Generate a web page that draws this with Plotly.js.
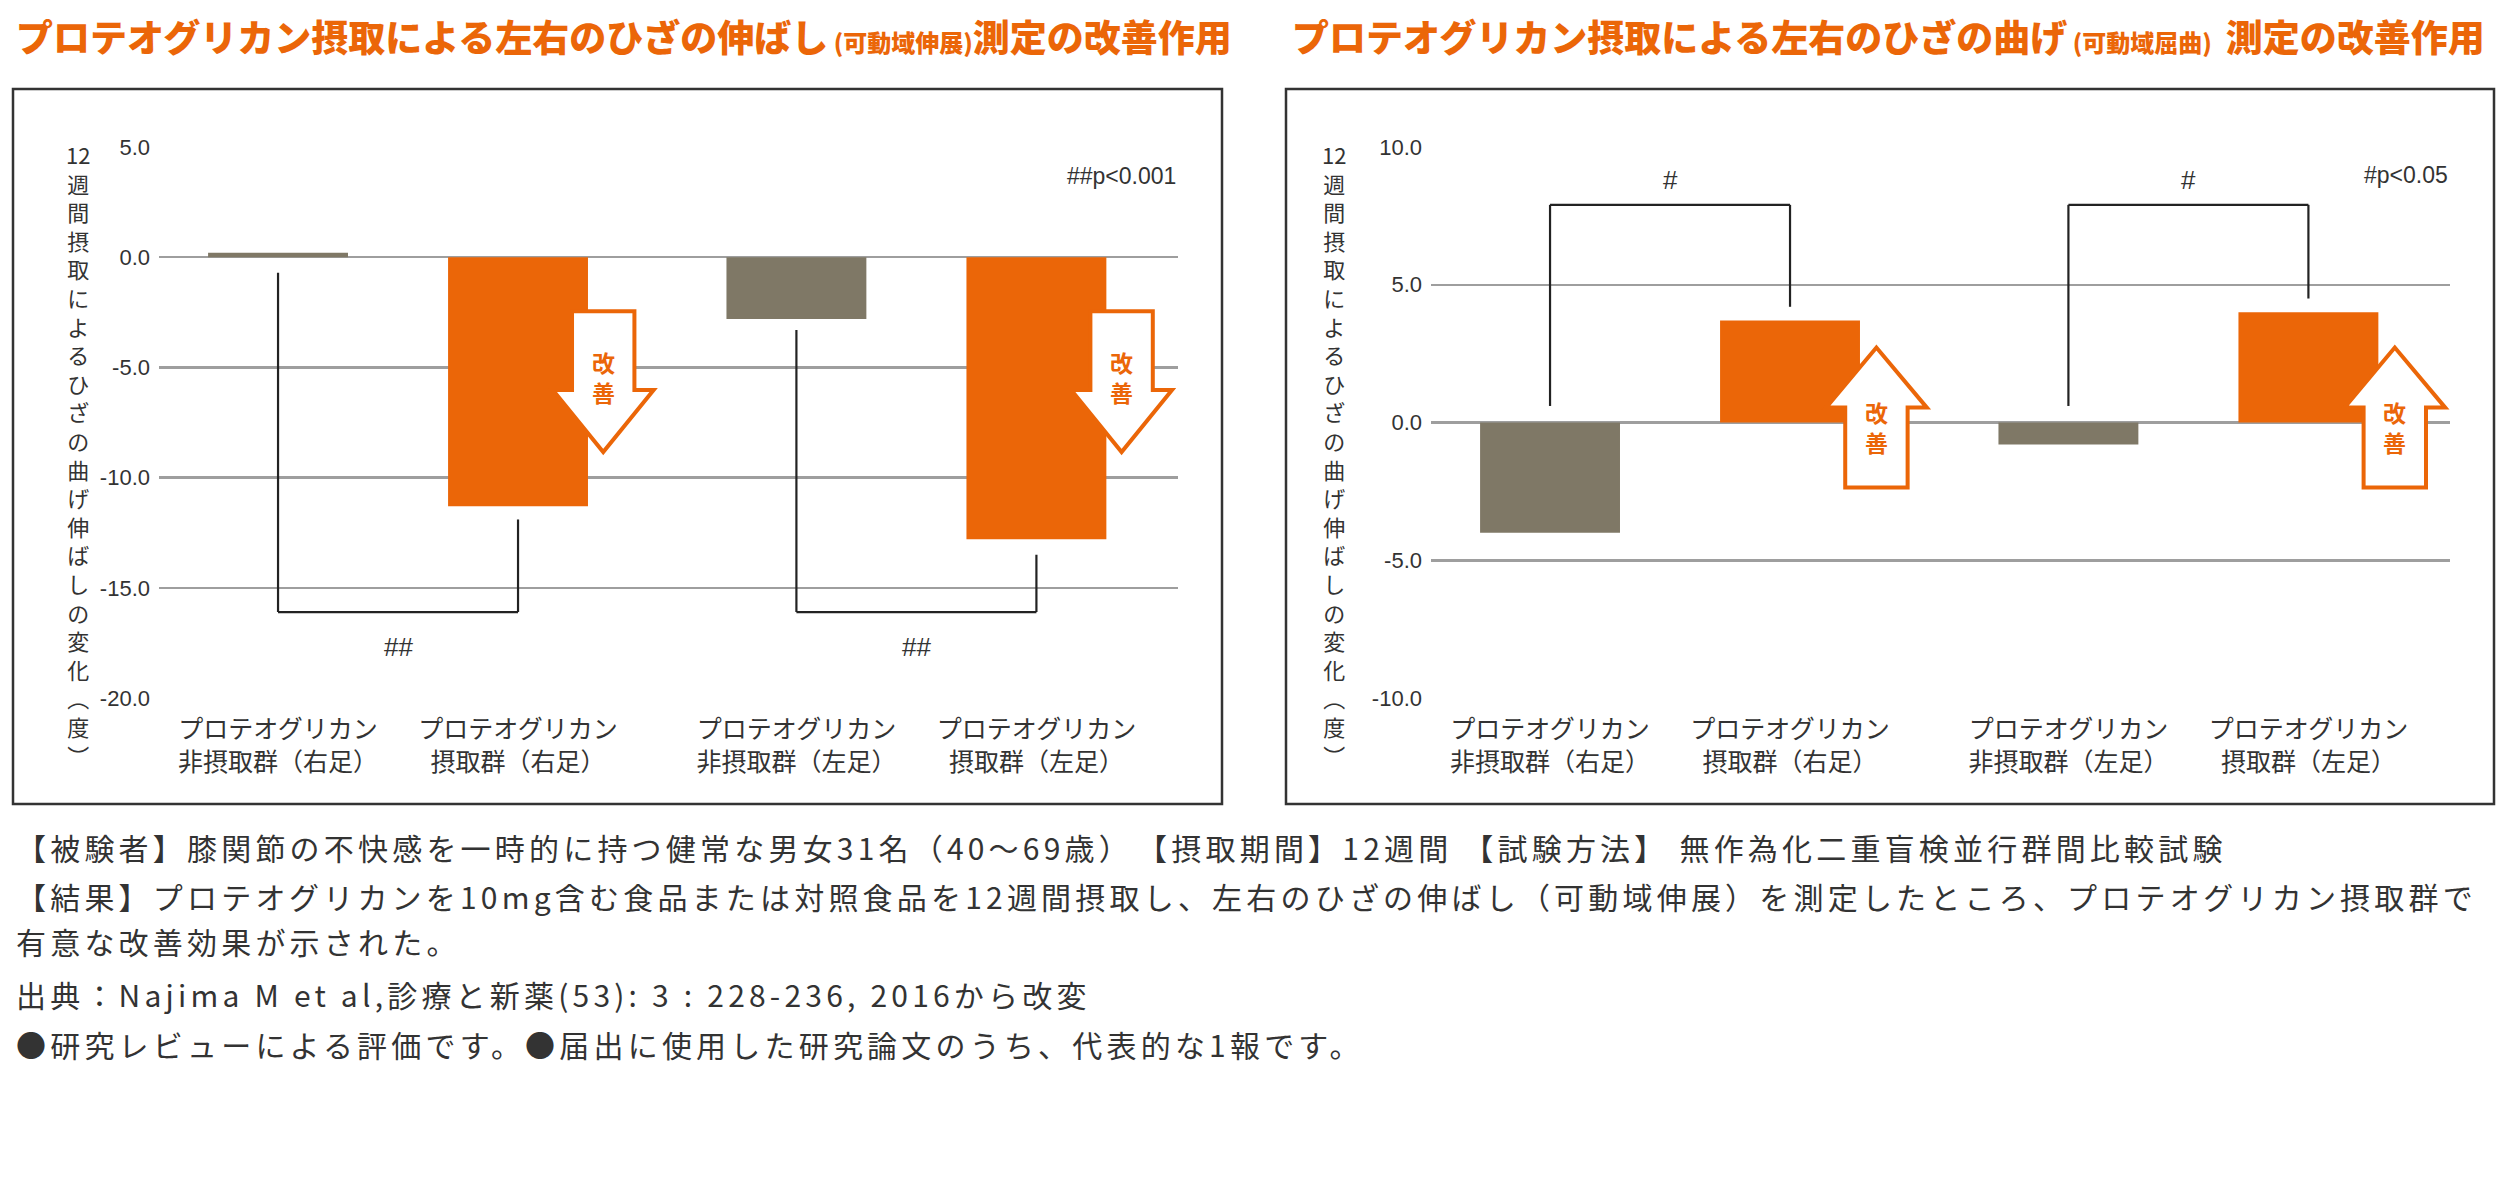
<!DOCTYPE html>
<html lang="ja">
<head>
<meta charset="utf-8">
<script src="https://cdn.plot.ly/plotly-3.0.1.min.js"></script>
<style>
  body { margin: 0; background: #fff; }
  #wrap { position: relative; width: 2500px; height: 1180px; }
  #chart { position: absolute; left: 0; top: 0; width: 2500px; height: 1180px; }
  .note {
    position: absolute; left: 16px;
    font-family: 'Noto Sans CJK JP', sans-serif;
    font-size: 30px; line-height: 30px; letter-spacing: 4.2px;
    color: #333; white-space: nowrap;
  }
</style>
</head>
<body>
<div id="wrap">
  <div id="chart"></div>
  <div class="note" style="top:832px">【被験者】膝関節の不快感を一時的に持つ健常な男女31名（40〜69歳）　【摂取期間】12週間 【試験方法】 無作為化二重盲検並行群間比較試験</div>
  <div class="note" style="top:881px">【結果】プロテオグリカンを10mg含む食品または対照食品を12週間摂取し、左右のひざの伸ばし（可動域伸展）を測定したところ、プロテオグリカン摂取群で</div>
  <div class="note" style="top:926px">有意な改善効果が示された。</div>
  <div class="note" style="top:979px">出典：Najima M et al,診療と新薬(53): 3 : 228-236, 2016から改変</div>
  <div class="note" style="top:1029px">●研究レビューによる評価です。●届出に使用した研究論文のうち、代表的な1報です。</div>
</div>
<script>
// ---- data ----
const categories = [
  'プロテオグリカン<br>非摂取群（右足）',
  'プロテオグリカン<br>摂取群（右足）',
  'プロテオグリカン<br>非摂取群（左足）',
  'プロテオグリカン<br>摂取群（左足）'
];
const treated = [false, true, false, true];

// knee extension (可動域伸展), degrees
const extensionValues = [0.2, -11.3, -2.8, -12.8];
const extensionBracketEnds = [-0.7, -11.9, -3.3, -13.5];
const extensionBracketLevel = -16.1;
const extensionSig = '##';
const extensionNote = '##p<0.001';
const extensionTicks = [5, 0, -5, -10, -15, -20];

// knee flexion (可動域屈曲), degrees
const flexionValues = [-4.0, 3.7, -0.8, 4.0];
const flexionBracketEnds = [0.6, 4.2, 0.6, 4.5];
const flexionBracketLevel = 7.9;
const flexionSig = '#';
const flexionNote = '#p<0.05';
const flexionTicks = [10, 5, 0, -5, -10];

const axisTitle = '12週間摂取によるひざの曲げ伸ばしの変化（度）';

// ---- styling ----
const ORANGE = '#eb6608';
const GRAY = '#7f7866';
const INK = '#333333';
const JP = "'Noto Sans CJK JP', sans-serif";
const NUM = "'Liberation Sans', Arial, sans-serif";
const GROUP_GAP = 0.16;
const px = v => v / 2500;
const py = v => 1 - v / 1180;

const xPos = categories.map((c, i) => i + (i >= 2 ? GROUP_GAP : 0));

function arrowPath(xc, yBase, yHead, yTip, hs, hh) {
  return `M ${xc - hs},${yBase} L ${xc + hs},${yBase} L ${xc + hs},${yHead} ` +
         `L ${xc + hh},${yHead} L ${xc},${yTip} L ${xc - hh},${yHead} L ${xc - hs},${yHead} Z`;
}

function buildPanel(p) {
  const traces = [{
    type: 'bar',
    x: xPos,
    y: p.values,
    width: 0.583,
    marker: { color: treated.map(t => t ? ORANGE : GRAY), line: { width: 0 } },
    xaxis: p.xa, yaxis: p.ya,
    hoverinfo: 'skip', showlegend: false
  }];

  const shapes = [];
  const annotations = [];
  const bracket = { type: 'line', xref: p.xa, yref: p.ya, line: { color: '#222', width: 2.2 }, layer: 'above' };

  // brackets between 非摂取群 / 摂取群 of each leg
  [[0, 1], [2, 3]].forEach(([a, b]) => {
    shapes.push(Object.assign({}, bracket, { x0: xPos[a], x1: xPos[a], y0: p.ends[a], y1: p.level }));
    shapes.push(Object.assign({}, bracket, { x0: xPos[b], x1: xPos[b], y0: p.ends[b], y1: p.level }));
    shapes.push(Object.assign({}, bracket, { x0: xPos[a], x1: xPos[b], y0: p.level, y1: p.level }));
    annotations.push({
      xref: p.xa, yref: p.ya, x: (xPos[a] + xPos[b]) / 2, y: p.level + p.sigOffset,
      text: p.sig, showarrow: false, font: { family: NUM, size: 26, color: INK }
    });
  });

  // 改善 arrows next to the treated bars
  xPos.forEach((x, i) => {
    if (!treated[i]) return;
    const xc = x + p.arrow.dx;
    shapes.push({
      type: 'path', xref: p.xa, yref: p.ya, layer: 'above',
      path: arrowPath(xc, p.arrow.base, p.arrow.head, p.arrow.tip, 0.13, 0.21),
      fillcolor: '#ffffff', line: { color: ORANGE, width: 4 }
    });
    annotations.push({
      xref: p.xa, yref: p.ya, x: xc, y: p.arrow.label,
      text: '改<br>善', showarrow: false,
      font: { family: JP, size: 23, color: ORANGE, weight: 700 }
    });
  });

  // p-value note, top right of the plot
  annotations.push({
    xref: p.xa + ' domain', yref: p.ya, x: 1, y: p.noteY, xanchor: 'right',
    text: p.note, showarrow: false, font: { family: NUM, size: 23, color: INK }
  });

  // vertical axis title, one glyph per line
  const units = ['12'].concat(Array.from(axisTitle.slice(2)))
    .map(c => c === '（' ? '︵' : c === '）' ? '︶' : c);
  annotations.push({
    xref: 'paper', yref: 'paper', x: px(p.titleX), y: py(136), yanchor: 'top',
    text: units.join('<br>'), showarrow: false, align: 'center',
    font: { family: JP, size: 22, color: INK }
  });

  // panel title
  annotations.push({
    xref: 'paper', yref: 'paper', x: px(p.headX), y: py(36), xanchor: 'left', yanchor: 'middle',
    text: p.head, showarrow: false,
    font: { family: JP, size: 37, color: ORANGE, weight: 900 }
  });

  // panel frame
  shapes.push({
    type: 'rect', xref: 'paper', yref: 'paper', layer: 'below',
    x0: px(p.box[0]), x1: px(p.box[1]), y0: py(804), y1: py(89),
    line: { color: INK, width: 2.5 }
  });

  return { traces, shapes, annotations };
}

const left = buildPanel({
  xa: 'x', ya: 'y',
  values: extensionValues, ends: extensionBracketEnds, level: extensionBracketLevel,
  sig: extensionSig, sigOffset: -1.6, note: extensionNote, noteY: 3.7,
  arrow: { dx: 0.355, base: -2.45, head: -6.03, tip: -8.84, label: -5.45 },
  titleX: 64, headX: 14, box: [13, 1222],
  head: 'プロテオグリカン摂取による左右のひざの伸ばし<span style="font-size:24px"> (可動域伸展)</span>測定の改善作用'
});
const right = buildPanel({
  xa: 'x2', ya: 'y2',
  values: flexionValues, ends: flexionBracketEnds, level: flexionBracketLevel,
  sig: flexionSig, sigOffset: 0.9, note: flexionNote, noteY: 9.0,
  arrow: { dx: 0.36, base: -2.36, head: 0.54, tip: 2.72, label: -0.15 },
  titleX: 1334, headX: 1290, box: [1286, 2494],
  head: 'プロテオグリカン摂取による左右のひざの曲げ<span style="font-size:24px"> (可動域屈曲) </span> 測定の改善作用'
});

function xAxis(domain) {
  return {
    domain, range: [-0.496, 3.75], tickvals: xPos, ticktext: categories,
    showgrid: false, zeroline: false, showline: false, ticks: '',
    ticklabelstandoff: 14,
    tickfont: { family: JP, size: 25, color: INK }, fixedrange: true
  };
}
function yAxis(ticks, anchor) {
  return {
    domain: [py(698), py(147)], range: [ticks[ticks.length - 1], ticks[0]], anchor,
    tickvals: ticks, ticktext: ticks.map(v => v.toFixed(1)),
    showgrid: true, gridcolor: '#9e9e9e', gridwidth: 2.5,
    zeroline: false, showline: false, ticks: '', ticklabelstandoff: 8,
    tickfont: { family: NUM, size: 22, color: INK }, fixedrange: true
  };
}

const layout = {
  width: 2500, height: 1180,
  margin: { l: 0, r: 0, t: 0, b: 0 },
  paper_bgcolor: '#ffffff', plot_bgcolor: 'rgba(0,0,0,0)',
  showlegend: false,
  xaxis: xAxis([px(159), px(1178)]),
  yaxis: yAxis(extensionTicks, 'x'),
  xaxis2: Object.assign(xAxis([px(1431), px(2450)]), { anchor: 'y2' }),
  yaxis2: yAxis(flexionTicks, 'x2'),
  shapes: left.shapes.concat(right.shapes),
  annotations: left.annotations.concat(right.annotations)
};

Plotly.newPlot('chart', left.traces.concat(right.traces), layout, { staticPlot: true, displayModeBar: false });
</script>
</body>
</html>
